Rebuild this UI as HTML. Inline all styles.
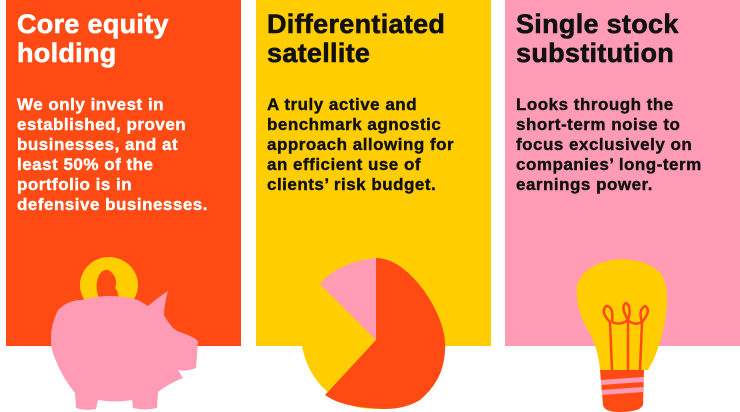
<!DOCTYPE html>
<html><head><meta charset="utf-8"><style>
body{margin:0;width:740px;height:412px;background:#fff;position:relative;overflow:hidden;font-family:"Liberation Sans",Arial,sans-serif;font-weight:bold}
.p{position:absolute;top:0;height:346px;width:235px}
.t{position:absolute;left:11px;top:10px;font-size:27px;line-height:29px;width:230px;-webkit-text-stroke:0.6px currentColor;letter-spacing:0.3px}
.b{position:absolute;left:11px;top:95px;font-size:17px;line-height:20px;width:230px;letter-spacing:0.5px;-webkit-text-stroke:0.4px currentColor}
</style></head><body>
<div class="p" style="left:6px;background:#ff4a14;color:#fff"><div class="t">Core equity<br>holding</div><div class="b">We only invest in<br>established, proven<br>businesses, and at<br>least 50% of the<br>portfolio is in<br>defensive businesses.</div></div>
<div class="p" style="left:256px;background:#ffcd00;color:#111"><div class="t">Differentiated<br>satellite</div><div class="b">A truly active and<br>benchmark agnostic<br>approach allowing for<br>an efficient use of<br>clients’ risk budget.</div></div>
<div class="p" style="left:505px;background:#ff9bb5;color:#111"><div class="t">Single stock<br>substitution</div><div class="b">Looks through the<br>short-term noise to<br>focus exclusively on<br>companies’ long-term<br>earnings power.</div></div>
<svg width="740" height="412" style="position:absolute;left:0;top:0">
<ellipse cx="109" cy="285" rx="29" ry="28" fill="#ffcd00"/>
<path d="M102 303 Q93 290 99 275 Q106 265 113 274 Q118 280 115 288 Q120 293 117 303Z" fill="#ff4a14"/>
<path d="M82 300 Q110 292 138 300 L148 306 Q160 296 168 291 Q164 305 164 315 Q172 330 180 332 Q197 338 198 342 L196 368 Q186 372 178 370 L183 378 Q168 384 158 392 L157 408 Q145 411 133 408 L132 400 Q115 403 98 400 L96 409 Q85 411 76 408 L75 393 Q60 375 52 350 Q48 330 58 310 Q68 300 82 300Z" fill="#ff9bb5"/>
<ellipse cx="373" cy="333" rx="72" ry="76" fill="#ffcd00"/>
<path d="M376 258 Q400 258 425 292 Q447 325 445 350 Q444 380 420 400 Q400 412 370 408 Q340 406 325 395 L376 340Z" fill="#ff4a14"/>
<path d="M376 258 L376 340 L320 284 Q338 262 376 258Z" fill="#ff9bb5"/>
<path d="M620 259 Q650 260 662 275 Q670 290 665 320 Q660 350 648 370 L600 370 Q598 345 585 325 Q575 305 577 285 Q585 262 620 259Z" fill="#ffcd00"/>
<g stroke="#ff4a14" stroke-width="2.5" fill="none"><path d="M612 370 L610 322 Q600 312 606 306 Q614 306 612 322"/><path d="M628 370 L628 320 Q620 306 626 303 Q632 306 628 320"/><path d="M640 370 L642 322 Q652 310 645 306 Q638 310 642 322"/><path d="M612 322 Q620 326 628 320 Q634 326 642 322"/></g>
<path d="M600 370 L644 370 L643 405 Q640 412 620 412 Q604 412 603 405Z" fill="#ff4a14"/>
<path d="M601 380 L644 377 L644 382 L601 385Z M602 390 L643 387 L643 392 L602 395Z" fill="#ff9bb5"/>
</svg>
</body></html>
